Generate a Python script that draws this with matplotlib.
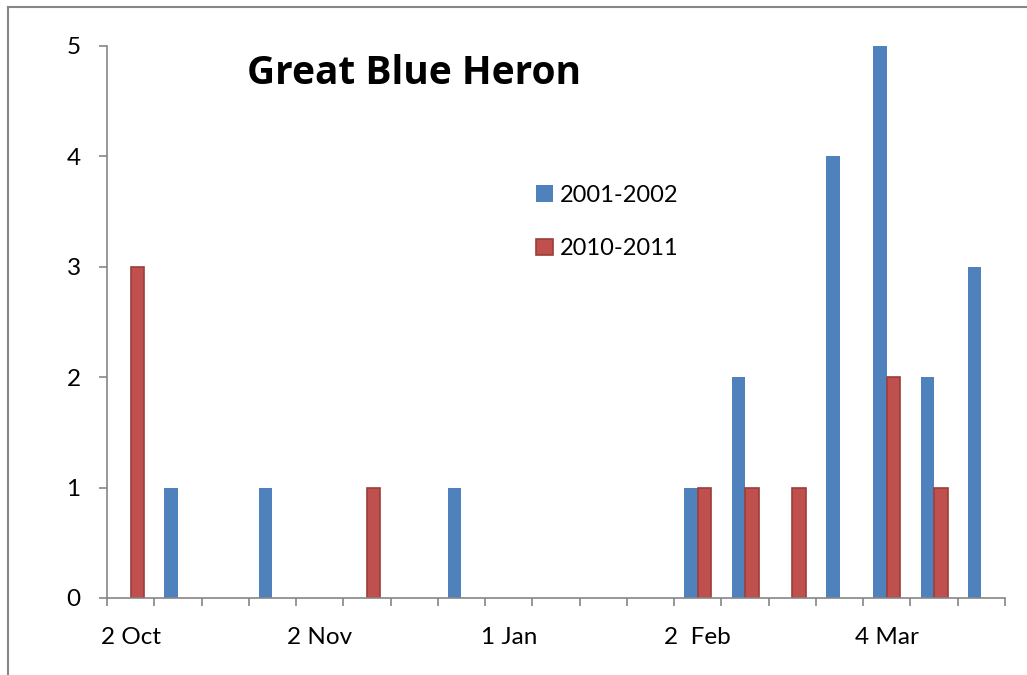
import numpy as np
import matplotlib.pyplot as plt
from matplotlib.lines import Line2D

plt.rcParams['font.family'] = ['Lato', 'DejaVu Sans']

# weekly counts, Oct to Mar
weeks = np.arange(19)
labels = ["2 Oct", "", "", "", "2 Nov", "", "", "", "1 Jan", "", "", "",
          "2  Feb", "", "", "", "4 Mar", "", ""]
s2001 = [0, 1, 0, 1, 0, 0, 0, 1, 0, 0, 0, 0, 1, 2, 0, 4, 5, 2, 3]
s2010 = [3, 0, 0, 0, 0, 1, 0, 0, 0, 0, 0, 0, 1, 1, 1, 0, 2, 1, 0]

blue = "#4f81bd"
red = "#c0504d"
grey = "#868686"

fig = plt.figure(figsize=(10.27, 6.75), dpi=100)
ax = fig.add_axes([107/1027, 77/675, 898/1027, 552/675])

w = 0.2857
ax.bar(weeks - w/2, s2001, w, color=blue, label="2001-2002")
# no outline on empty weeks
red_lw = [1.2 if v > 0 else 0 for v in s2010]
ax.bar(weeks + w/2, s2010, w, color=red, edgecolor="#9b3d3a", linewidth=red_lw,
       label="2010-2011")

ax.set_xlim(-0.5, 18.5)
ax.set_ylim(0, 5)
ax.set_yticks(range(6))
ax.set_xticks(weeks)
ax.set_xticklabels(labels)
ax.set_xticks(np.arange(-0.5, 19, 1), minor=True)
ax.tick_params(axis='x', which='major', length=0, pad=21, labelsize=17.5)
ax.tick_params(axis='x', which='minor', length=6, width=1.2, color=grey)
ax.tick_params(axis='y', length=6, width=1.2, color=grey, pad=13, labelsize=17.5)

for s in ['top', 'right']:
    ax.spines[s].set_visible(False)
for s in ['left', 'bottom']:
    ax.spines[s].set_color(grey)
    ax.spines[s].set_linewidth(1.2)

leg = ax.legend(loc='upper left', bbox_to_anchor=(536/1027, 1 - 185/675),
                bbox_transform=fig.transFigure, frameon=False, fontsize=17,
                handlelength=0.7, handleheight=0.7, handletextpad=0.3,
                labelspacing=1.36, borderpad=0, borderaxespad=0)
leg.legend_handles[1].set_linewidth(1.2)

fig.text(414/1027, 1 - 84/675, "Great Blue Heron", ha='center', va='baseline',
         fontsize=28, fontweight='bold', family=['Open Sans', 'DejaVu Sans'])

# chart area border (left and top edges)
fig.add_artist(Line2D([8/1027, 8/1027], [0, 1 - 7/675], color=grey, lw=1.5,
                      transform=fig.transFigure))
fig.add_artist(Line2D([8/1027, 1], [1 - 7/675, 1 - 7/675], color=grey, lw=1.5,
                      transform=fig.transFigure))

fig.savefig("out.png", dpi=100)
